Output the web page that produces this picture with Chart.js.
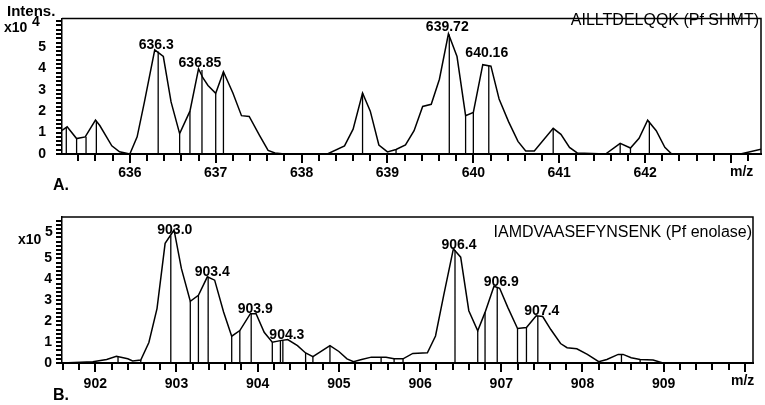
<!DOCTYPE html>
<html>
<head>
<meta charset="utf-8">
<script src="https://cdn.jsdelivr.net/npm/chart.js@4"></script>
<style>
  html, body { margin: 0; padding: 0; background: #fff; }
  #wrap { position: relative; width: 765px; height: 405px; }
  canvas { position: absolute; left: 0; }
</style>
</head>
<body>
<div id="wrap">
  <canvas id="cA" width="765" height="200" style="top:0"></canvas>
  <canvas id="cB" width="765" height="205" style="top:200px"></canvas>
</div>
<script>
// ---------- Panel A data (intensity in units of 10^4) ----------
const mzA  = [635.21,635.27,635.38,635.48,635.60,635.65,635.79,635.88,636.00,636.085,636.17,636.29,636.39,636.48,636.58,636.70,636.80,636.85,636.91,637.00,637.09,637.20,637.30,637.39,637.51,637.61,637.69,637.80,638.30,638.50,638.60,638.71,638.80,638.90,639.00,639.10,639.21,639.31,639.41,639.51,639.605,639.71,639.81,639.91,640.00,640.11,640.205,640.30,640.41,640.52,640.61,640.71,640.93,641.02,641.12,641.21,641.54,641.71,641.83,641.93,642.03,642.13,642.23,642.31,643.11,643.35];
const intA = [1.10,1.27,0.72,0.80,1.58,1.33,0.38,0.10,0.00,0.80,2.43,4.86,4.55,2.43,0.95,2.00,3.98,3.56,3.20,2.83,3.84,2.85,1.79,1.75,0.87,0.17,0.05,0.00,0.00,0.38,1.16,2.85,2.00,0.42,0.10,0.21,0.42,1.09,2.22,2.32,3.49,5.61,4.55,1.79,1.94,4.17,4.10,2.57,1.51,0.59,0.14,0.14,1.20,0.92,0.31,0.05,0.00,0.50,0.28,0.73,1.58,1.09,0.31,0.00,0.00,0.22];
const stickMzA  = [635.26,635.38,635.49,635.61,636.33,636.58,636.70,636.84,637.00,637.09,638.71,639.10,639.72,639.91,640.00,640.18,640.93,641.71,641.83,642.05];
const stickIntA = [1.25,0.72,0.80,1.55,4.78,0.95,2.00,3.92,2.83,3.84,2.85,0.21,5.58,1.79,1.94,4.12,1.20,0.50,0.28,1.52];
const peakTextA = ['636.3','636.85','639.72','640.16'];
const peakMzA   = [636.33,636.84,639.72,640.18];
const peakIntA  = [4.78,3.92,5.58,4.40];
const ticksA = [636,637,638,639,640,641,642];

// ---------- Panel B data (intensity in units of 10^5) ----------
const mzB  = [901.59,901.97,902.14,902.26,902.40,902.46,902.56,902.66,902.76,902.86,902.97,903.06,903.17,903.27,903.38,903.47,903.58,903.68,903.78,903.91,903.98,904.08,904.18,904.28,904.37,904.49,904.59,904.68,904.89,905.00,905.10,905.18,905.28,905.40,905.58,905.68,905.79,905.91,906.09,906.19,906.29,906.41,906.50,906.60,906.71,906.80,906.91,906.98,907.08,907.20,907.31,907.43,907.51,907.61,907.73,907.81,907.93,908.06,908.20,908.30,908.44,908.50,908.60,908.71,908.87,908.99,910.10];
const intB = [0.00,0.06,0.17,0.32,0.20,0.10,0.14,0.98,2.60,5.72,6.36,4.52,2.95,3.24,4.12,3.96,2.44,1.28,1.55,2.36,2.36,1.47,0.99,1.07,1.12,0.83,0.48,0.30,0.83,0.55,0.20,0.06,0.17,0.28,0.28,0.20,0.20,0.46,0.49,1.29,3.22,5.46,5.06,2.50,1.54,2.42,3.67,3.57,2.66,1.65,1.70,2.26,2.22,1.60,0.93,0.73,0.68,0.41,0.06,0.17,0.41,0.41,0.25,0.17,0.14,0.00,0.00];
const stickMzB  = [902.28,902.56,902.93,903.17,903.27,903.39,903.68,903.78,903.92,904.18,904.28,904.31,904.59,904.68,904.89,905.18,905.52,905.68,905.79,906.43,906.71,906.80,906.95,907.20,907.31,907.45,908.20,908.48,908.71];
const stickIntB = [0.32,0.14,6.10,2.95,3.24,4.12,1.28,1.55,2.36,0.99,1.07,1.09,0.48,0.30,0.83,0.06,0.28,0.20,0.20,5.40,1.54,2.42,3.62,1.65,1.70,2.25,0.06,0.41,0.17];
const peakTextB = ['903.0','903.4','903.9','904.3','906.4','906.9','907.4'];
const peakMzB   = [902.93,903.39,903.92,904.31,906.43,906.95,907.45];
const peakIntB  = [6.10,4.12,2.36,1.09,5.40,3.62,2.25];
const ticksB = [902,903,904,905,906,907,908,909];

const yLabelTicks = [0,1,2,3,4,5];

// ---------- helpers ----------
const FONT = "'Liberation Sans', Arial, Helvetica, sans-serif";
function profile(mz, it) { return mz.map((m, i) => ({x: m, y: it[i]})); }
function sticks(mz, it) {
  const out = [];
  mz.forEach((m, i) => { out.push({x: m, y: 0}); out.push({x: m, y: it[i]}); out.push({x: m, y: null}); });
  return out;
}
function isInt(v) { return Math.abs(v - Math.round(v)) < 1e-6; }

// frame + tick marks (positions from the library's generated ticks)
function framePlugin() {
  return {
    id: 'frame',
    afterDraw(chart) {
      const {ctx, chartArea: a} = chart;
      const xs = chart.scales.x, ys = chart.scales.y;
      ctx.save();
      ctx.strokeStyle = '#000';
      ctx.lineWidth = 1.5;
      ctx.beginPath();
      ctx.moveTo(a.left, a.top);
      ctx.lineTo(a.right, a.top);
      ctx.lineTo(a.right, a.bottom);
      ctx.stroke();
      ctx.fillStyle = '#000000';
      for (const t of xs.ticks) {
        const px = Math.round(xs.getPixelForValue(t.value));
        const len = isInt(t.value) ? 9 : 7;
        ctx.fillRect(px - 1, a.bottom, 2, len);
      }
      for (const t of ys.ticks) {
        const py = Math.round(ys.getPixelForValue(t.value));
        ctx.fillRect(a.left - 6, py - 1, 6, 2);
      }
      ctx.restore();
    }
  };
}

function textPlugin(cfg) {
  return {
    id: 'texts',
    afterDraw(chart) {
      const {ctx} = chart;
      const xs = chart.scales.x, ys = chart.scales.y;
      ctx.save();
      ctx.fillStyle = '#000';
      ctx.font = 'bold 14px ' + FONT;
      ctx.textAlign = 'center';
      ctx.textBaseline = 'alphabetic';
      cfg.peakText.forEach((t, i) => {
        const px = xs.getPixelForValue(cfg.peakMz[i]) + cfg.labelDx;
        const py = ys.getPixelForValue(cfg.peakInt[i]) - cfg.labelDy;
        ctx.fillText(t, px, py);
      });
      cfg.texts.forEach(t => {
        ctx.font = t.font;
        ctx.textAlign = t.align || 'left';
        ctx.textBaseline = 'middle';
        ctx.fillText(t.s, t.x, t.y);
      });
      ctx.restore();
    }
  };
}

function makeChart(id, cfg) {
  return new Chart(document.getElementById(id), {
    type: 'line',
    data: {
      datasets: [
        { data: profile(cfg.mz, cfg.it), borderColor: '#000', borderWidth: 1.5, pointRadius: 0, tension: 0, fill: false },
        { data: sticks(cfg.smz, cfg.sit), borderColor: '#000', borderWidth: 1.3, pointRadius: 0, tension: 0, fill: false, spanGaps: false }
      ]
    },
    options: {
      responsive: false,
      animation: false,
      devicePixelRatio: 1,
      layout: { padding: cfg.padding },
      plugins: { legend: { display: false }, tooltip: { enabled: false } },
      scales: {
        x: {
          type: 'linear', min: cfg.xmin, max: cfg.xmax,
          afterFit(s) { s.height = cfg.xAxisH; },
          grid: { drawOnChartArea: false, drawTicks: true, tickLength: 6, tickColor: 'rgba(0,0,0,0)' },
          border: { display: true, color: '#000', width: 2 },
          ticks: {
            stepSize: 0.2, autoSkip: false, maxRotation: 0, minRotation: 0, includeBounds: false,
            padding: cfg.xPad, color: '#000', font: { family: FONT, size: 14, weight: 'bold' },
            callback(v) { return (isInt(v) && cfg.xLabels.includes(Math.round(v))) ? String(Math.round(v)) : ''; }
          }
        },
        y: {
          type: 'linear', min: 0, max: cfg.ymax,
          afterFit(s) { s.width = 62; },
          grid: { drawOnChartArea: false, drawTicks: true, tickLength: 6, tickColor: 'rgba(0,0,0,0)' },
          border: { display: true, color: '#000', width: 1.5 },
          ticks: {
            stepSize: 0.2, autoSkip: false, includeBounds: false,
            padding: cfg.yPad, color: '#000', font: { family: FONT, size: 14, weight: 'bold' },
            callback(v) { return (isInt(v) && yLabelTicks.includes(Math.round(v))) ? String(Math.round(v)) : ''; }
          }
        }
      }
    },
    plugins: [framePlugin(), textPlugin(cfg)]
  });
}

makeChart('cA', {
  mz: mzA, it: intA, smz: stickMzA, sit: stickIntA,
  peakText: peakTextA, peakMz: peakMzA, peakInt: peakIntA, labelDx: -2, labelDy: 3,
  xmin: 635.21, xmax: 643.35, ymax: 6.33, xLabels: ticksA,
  padding: { left: 0, right: 4, top: 4, bottom: 0 }, xAxisH: 46, xPad: 5, yPad: 10,
  texts: [
    { s: 'Intens.', x: 7, y: 12, font: 'bold 15px ' + FONT },
    { s: 'x10', x: 4, y: 28, font: 'bold 14px ' + FONT },
    { s: '4', x: 32, y: 22, font: 'bold 14px ' + FONT },
    { s: 'A.', x: 53, y: 186, font: 'bold 16px ' + FONT },
    { s: 'm/z', x: 730, y: 172, font: 'bold 14px ' + FONT },
    { s: 'AILLTDELQQK (Pf SHMT)', x: 759, y: 21, font: '16px ' + FONT, align: 'right' }
  ]
});

makeChart('cB', {
  mz: mzB, it: intB, smz: stickMzB, sit: stickIntB,
  peakText: peakTextB, peakMz: peakMzB, peakInt: peakIntB, labelDx: 4, labelDy: 1,
  xmin: 901.59, xmax: 910.1, ymax: 6.98, xLabels: ticksB,
  padding: { left: 0, right: 12, top: 17, bottom: 0 }, xAxisH: 42, xPad: 7, yPad: 4,
  texts: [
    { s: 'x10', x: 18, y: 40, font: 'bold 14px ' + FONT },
    { s: '5', x: 45, y: 32, font: 'bold 14px ' + FONT },
    { s: 'B.', x: 53, y: 196, font: 'bold 16px ' + FONT },
    { s: 'm/z', x: 731, y: 181, font: 'bold 14px ' + FONT },
    { s: 'IAMDVAASEFYNSENK (Pf enolase)', x: 752, y: 33, font: '16px ' + FONT, align: 'right' }
  ]
});
</script>
</body>
</html>
